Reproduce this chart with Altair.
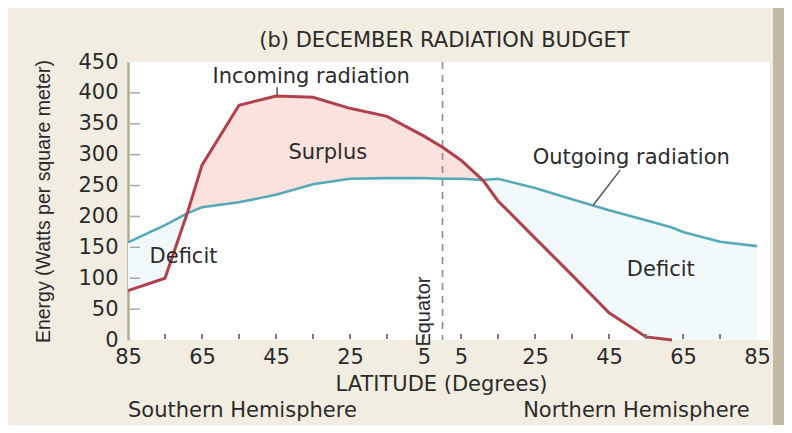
import altair as alt
import pandas as pd

# ---- data ----
lat = [-85, -75, -69, -65, -55, -45, -35, -25, -15, -5, 0, 5, 11, 15, 25, 35, 45, 55, 62, 65, 75, 85]
incoming = [80, 100, 205, 283, 380, 395, 393, 375, 362, 330, 312, 291, 258, 225, 165, 105, 44, 5, 0,
            None, None, None]
outgoing = [158, 186, 205, 215, 223, 235, 252, 261, 262, 262, 261, 261, 259, 261, 246, 228, 210, 194, 182,
            175, 159, 152]

y_tick_values = [0, 50, 100, 150, 200, 250, 300, 350, 400, 450]
y_inner_ticks = [50, 100, 150, 200, 250, 300, 350, 400]
x_label_values = [-85, -65, -45, -25, -5, 5, 25, 45, 65, 85]
x_minor_ticks = [-75, -65, -55, -45, -35, -25, -15, -5, 5, 15, 25, 35, 45, 55, 65, 75]

title_text = "(b) DECEMBER RADIATION BUDGET"
title_lat, title_val = 0.5, 484

ann_text = ["Incoming radiation", "Surplus", "Outgoing radiation", "Deficit", "Deficit"]
ann_lat = [-35.5, -31, 51, -70, 59]
ann_val = [425, 303, 294, 134, 113]

hemi_text = ["Southern Hemisphere", "Northern Hemisphere"]
hemi_lat = [-85, 83]
hemi_val = [-115, -115]

leader_lat = [-44.7, 48]
leader_lat2 = [-44.7, 40.7]
leader_val = [409, 275]
leader_val2 = [396, 218]

W, H = 642, 278
PAD = {"left": 120, "top": 54, "right": 14, "bottom": 85}
FONT = "DejaVu Sans"
TXT = "#2b2b2b"

df = pd.DataFrame({"lat": lat, "inc": incoming, "out": outgoing})

xs = alt.Scale(domain=[-85, 88.5], nice=False, zero=False)
ys = alt.Scale(domain=[0, 450], nice=False)

x_axis = alt.Axis(values=x_label_values, labelExpr="abs(datum.value)", ticks=False, domain=False,
                  grid=False, labelFont=FONT, labelFontSize=21, labelColor=TXT, labelPadding=6,
                  labelOverlap=False, labelFlush=False,
                  title="LATITUDE (Degrees)", titleFont=FONT, titleFontSize=21,
                  titleFontWeight="normal", titleColor=TXT, titlePadding=6, titleX=313)
y_axis = alt.Axis(values=y_tick_values, ticks=False, domain=True, domainColor="#b5aa93",
                  domainWidth=2.5, grid=False, labelFont=FONT, labelFontSize=21, labelColor=TXT,
                  labelPadding=10, labelOverlap=False, labelFlush=False,
                  title="Energy (Watts per square meter)",
                  titleFont="Liberation Sans", titleFontSize=19.5, titleFontWeight="normal",
                  titleColor=TXT, titlePadding=24)

base = alt.Chart(df)

deficit = base.transform_calculate(
    low="min(isValid(datum.inc) ? datum.inc : 0, datum.out)"
).mark_area(color="#f1f9fb").encode(
    x=alt.X("lat:Q", scale=xs, axis=x_axis),
    y=alt.Y("out:Q", scale=ys, axis=y_axis),
    y2="low:Q",
)

surplus = base.transform_filter("isValid(datum.inc)").transform_calculate(
    top="max(datum.inc, datum.out)"
).mark_area(color="#fbe2dd").encode(
    x=alt.X("lat:Q", scale=xs, axis=x_axis),
    y=alt.Y("top:Q", scale=ys, axis=y_axis),
    y2="out:Q",
)

equator = alt.Chart(pd.DataFrame({"lat": [0]})).mark_rule(
    color="#8c8c8c", strokeDash=[7, 6], strokeWidth=1.6
).encode(x=alt.X("lat:Q", scale=xs, axis=x_axis))

out_line = base.mark_line(color="#56aab8", strokeWidth=2.6).encode(
    x=alt.X("lat:Q", scale=xs, axis=x_axis), y=alt.Y("out:Q", scale=ys, axis=y_axis)
)
in_line = base.transform_filter("isValid(datum.inc)").mark_line(
    color="#b0404c", strokeWidth=3
).encode(x=alt.X("lat:Q", scale=xs, axis=x_axis), y=alt.Y("inc:Q", scale=ys, axis=y_axis))

xt = alt.Chart(pd.DataFrame({"lat": x_minor_ticks})).mark_rule(
    color="#7a7a7a", strokeWidth=2
).encode(x=alt.X("lat:Q", scale=xs, axis=x_axis), y=alt.value(H - 6), y2=alt.value(H - 1))

yt = alt.Chart(pd.DataFrame({"v": y_inner_ticks})).mark_rule(
    color="#a8a8a8", strokeWidth=1.5
).encode(y=alt.Y("v:Q", scale=ys, axis=y_axis), x=alt.value(2), x2=alt.value(12))

leaders = alt.Chart(pd.DataFrame({"a": leader_lat, "a2": leader_lat2, "v": leader_val,
                                  "v2": leader_val2})).mark_rule(
    color="#555555", strokeWidth=1.5
).encode(x=alt.X("a:Q", scale=xs, axis=x_axis), x2="a2:Q",
         y=alt.Y("v:Q", scale=ys, axis=y_axis), y2="v2:Q")


def text_layer(frame, **kw):
    return alt.Chart(frame).mark_text(color=TXT, **kw).encode(
        x=alt.X("a:Q", scale=xs, axis=x_axis), y=alt.Y("v:Q", scale=ys, axis=y_axis), text="t:N")


ann = text_layer(pd.DataFrame({"t": ann_text, "a": ann_lat, "v": ann_val}),
                 font=FONT, fontSize=21, align="center", baseline="middle")
title_mark = text_layer(pd.DataFrame({"t": [title_text], "a": [title_lat], "v": [title_val]}),
                        font=FONT, fontSize=21, align="center", baseline="middle")
eq_text = text_layer(pd.DataFrame({"t": ["Equator"], "a": [-5], "v": [46]}),
                     font="Liberation Sans", fontSize=20, angle=270, align="center",
                     baseline="middle")
hemi_s = text_layer(pd.DataFrame({"t": [hemi_text[0]], "a": [hemi_lat[0]], "v": [hemi_val[0]]}),
                    font=FONT, fontSize=21, align="left", baseline="middle")
hemi_n = text_layer(pd.DataFrame({"t": [hemi_text[1]], "a": [hemi_lat[1]], "v": [hemi_val[1]]}),
                    font=FONT, fontSize=21, align="right", baseline="middle")

# decorative page edge strip on the right (as in the scanned reference)
edge = alt.Chart(pd.DataFrame({"k": [0]})).mark_rect(color="#c3b9a5", clip=False).encode(
    x=alt.value(W + 3), x2=alt.value(W + PAD["right"]),
    y=alt.value(-PAD["top"]), y2=alt.value(H + PAD["bottom"])
)

chart = alt.layer(
    deficit, surplus, equator, out_line, in_line, xt, yt, leaders, ann, eq_text,
    hemi_s, hemi_n, title_mark, edge
).properties(
    width=W, height=H,
    autosize=alt.AutoSizeParams(type="none"),
    padding=PAD,
    background="#f2ede1",
).configure_view(fill="white", stroke=None).configure_axis(labelOverlap=False)

chart.save("out.html", embed_options={"renderer": "svg", "actions": False})
